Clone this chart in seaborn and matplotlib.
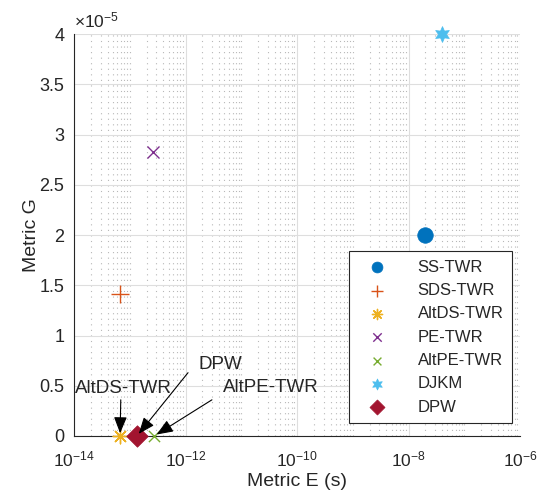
import numpy as np
import matplotlib
matplotlib.use("Agg")
import matplotlib.pyplot as plt
import matplotlib.ticker as mticker
import seaborn as sns

# ---- data ----
methods = ["SS-TWR", "SDS-TWR", "AltDS-TWR", "PE-TWR", "AltPE-TWR", "DJKM", "DPW"]
metric_e = [2.0e-8, 6.7e-14, 6.7e-14, 2.6e-13, 2.75e-13, 4.0e-8, 1.35e-13]
metric_g = [2.0e-5, 1.41e-5, 0.0, 2.83e-5, 0.0, 4.0e-5, 0.0]
colors = ["#0072BD", "#D95319", "#EDB120", "#7E2F8E", "#77AC30", "#4DBEEE", "#A2142F"]
markers = ["o", "+", (8, 2, 0), "x", "x", (6, 1, 0), "D"]
sizes = [125, 150, 110, 75, 65, 130, 120]

x_ticks = [1e-14, 1e-12, 1e-10, 1e-8, 1e-6]
y_ticks = [0, 0.5e-5, 1e-5, 1.5e-5, 2e-5, 2.5e-5, 3e-5, 3.5e-5, 4e-5]
y_scale_exp = -5

# annotations: label, target index, tail (x, y), text centre (x, y)
ann_labels = ["AltDS-TWR", "DPW", "AltPE-TWR"]
ann_targets = [2, 6, 4]
ann_tail = [(6.9e-14, 3.6e-6), (1.11e-12, 6.3e-6), (2.98e-12, 3.6e-6)]
ann_text = [(7.6e-14, 4.75e-6), (4.2e-12, 7.1e-6), (3.4e-11, 4.78e-6)]

sns.set_style("white")
plt.rcParams["font.family"] = ["Liberation Sans", "DejaVu Sans"]
plt.rcParams["mathtext.fontset"] = "custom"
plt.rcParams["mathtext.rm"] = "Liberation Sans"
plt.rcParams["mathtext.it"] = "Liberation Sans"
plt.rcParams["mathtext.default"] = "regular"

fig = plt.figure(figsize=(5.4, 4.97), dpi=100)
ax = fig.add_axes([74 / 540, 61 / 497, 446 / 540, 402 / 497])

for i, m in enumerate(methods):
    filled = markers[i] in ("o", "D") or markers[i] == (6, 1, 0)
    kw = dict(x=[metric_e[i]], y=[metric_g[i]], marker=markers[i], s=sizes[i],
              color=colors[i], label=m, ax=ax, zorder=3, clip_on=False)
    if filled:
        kw.update(edgecolor=colors[i], linewidth=0.5)
    else:
        kw.update(linewidth=1.0)
    sns.scatterplot(**kw)

ax.set_xscale("log")
ax.set_xlim(1e-14, 1e-6)
ax.set_ylim(0, 4e-5)
ax.xaxis.set_major_locator(mticker.FixedLocator(x_ticks))
ax.xaxis.set_major_formatter(mticker.LogFormatterSciNotation())
ax.xaxis.set_minor_locator(mticker.LogLocator(base=10, subs=np.arange(1, 10), numticks=100))
ax.xaxis.set_minor_formatter(mticker.NullFormatter())
ax.yaxis.set_major_locator(mticker.FixedLocator(y_ticks))
ax.yaxis.set_major_formatter(mticker.FuncFormatter(
    lambda v, p: "%g" % round(v / 10.0 ** y_scale_exp, 6)))
ax.text(0.0, 1.008, r"$\times10^{%d}$" % y_scale_exp, transform=ax.transAxes,
        ha="left", va="bottom", fontsize=12.5, color="#262626")

ax.grid(True, which="major", color="#dedede", linewidth=0.8, linestyle="-")
ax.xaxis.grid(True, which="minor", color="#b8b8b8", linewidth=0.8, linestyle=(0, (1, 4)))
ax.set_axisbelow(True)

for s in ("top", "right"):
    ax.spines[s].set_visible(False)
for s in ("left", "bottom"):
    ax.spines[s].set_color("#262626")
    ax.spines[s].set_linewidth(0.8)

ax.tick_params(axis="both", which="both", direction="in", colors="#262626", top=False, right=False)
ax.tick_params(axis="both", which="major", length=5, width=0.6)
ax.tick_params(axis="x", which="minor", length=2.5, width=0.5)
ax.tick_params(axis="x", labelsize=12.5, pad=10)
ax.tick_params(axis="y", labelsize=13, pad=7)

ax.set_xlabel("Metric E (s)", fontsize=14, color="#262626", labelpad=2)
ax.set_ylabel("Metric G", fontsize=14, color="#262626")
ax.yaxis.set_label_coords(-0.076, 0.5)

for lab, ti, tail, tc in zip(ann_labels, ann_targets, ann_tail, ann_text):
    ax.annotate("", xy=(metric_e[ti], metric_g[ti]), xytext=tail,
                arrowprops=dict(arrowstyle="-|>,head_length=1.0,head_width=0.4",
                                color="black", lw=0.8, shrinkA=0, shrinkB=2),
                annotation_clip=False, zorder=5)
    ax.text(tc[0], tc[1], lab, fontsize=13.5, ha="center", va="center", zorder=5)

leg = ax.legend(loc="lower right", bbox_to_anchor=(0.982, 0.032), borderaxespad=0,
                fontsize=12, frameon=True, fancybox=False, edgecolor="#262626",
                framealpha=1, markerscale=0.7, labelspacing=0.5, handletextpad=1.3,
                borderpad=0.5, handlelength=2.3)
leg.get_frame().set_linewidth(0.8)

fig.savefig("out.png", dpi=100)
